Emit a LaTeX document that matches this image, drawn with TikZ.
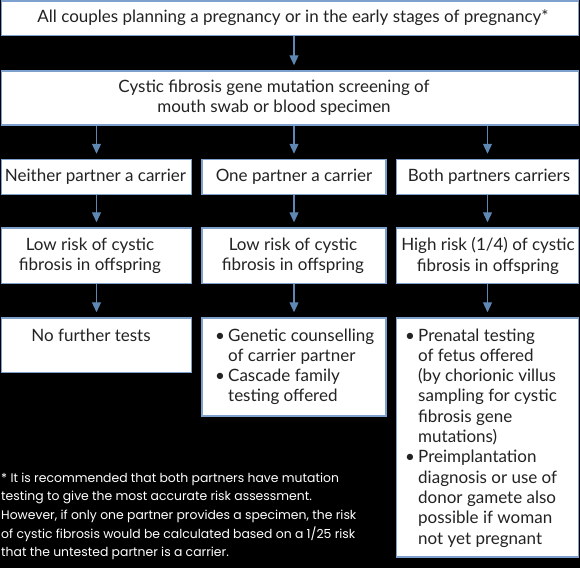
\documentclass[tikz,border=0pt]{standalone}
\usepackage{fontspec}
\setmainfont{Lato}
\newfontfamily\footfont{Poppins}
\usetikzlibrary{arrows.meta}
\definecolor{bord}{RGB}{125,160,205}
\definecolor{arrc}{RGB}{95,135,180}
\definecolor{txt}{RGB}{35,35,35}
\begin{document}
\begin{tikzpicture}[x=1pt,y=-1pt,
  box/.style={draw=bord, line width=1.5pt, fill=white, inner sep=0pt},
  lbl/.style={text=txt, font=\fontsize{17}{20.3}\selectfont, align=center, inner sep=0pt},
  lst/.style={text=txt, font=\fontsize{17}{20.3}\selectfont, inner sep=0pt, anchor=base west},
  foot/.style={text=white, font=\footfont\fontsize{12.4}{18.7}\selectfont, align=left, inner sep=0pt, anchor=base west},
  arr/.style={draw=arrc, line width=1.2pt, -{Triangle[width=9pt,length=10pt]}, shorten >=5pt}]
\fill[black] (0,0) rectangle (580,568);
\useasboundingbox (0,0) rectangle (580,568);
% boxes
\node[box, minimum width=577pt, minimum height=34.5pt] (b1) at (290,18.25) {};
\node[box, minimum width=577pt, minimum height=54pt] (b2) at (290,98) {};
\node[box, minimum width=190pt, minimum height=35pt] (r3a) at (96.5,177) {};
\node[box, minimum width=184pt, minimum height=35pt] (r3b) at (294,177) {};
\node[box, minimum width=182pt, minimum height=35pt] (r3c) at (487.5,177) {};
\node[box, minimum width=190pt, minimum height=55.5pt] (r4a) at (96.5,255.75) {};
\node[box, minimum width=184pt, minimum height=55.5pt] (r4b) at (294,255.75) {};
\node[box, minimum width=182pt, minimum height=55.5pt] (r4c) at (487.5,255.75) {};
\node[box, minimum width=190pt, minimum height=54.5pt] (r5a) at (96.5,345.25) {};
\node[box, minimum width=184pt, minimum height=98pt] (r5b) at (294,367) {};
\node[box, minimum width=182pt, minimum height=239pt] (r5c) at (487.5,437.5) {};
% texts
\node[lbl] (t1) at (293,18) {All couples planning a pregnancy or in the early stages of pregnancy*};
\node[lbl] (t2) at (274,98) {Cystic fibrosis gene mutation screening of\\mouth swab or blood specimen};
\node[lbl] (t3a) at (95.5,177) {Neither partner a carrier};
\node[lbl] (t3b) at (294,177) {One partner a carrier};
\node[lbl] (t3c) at (489,177) {Both partners carriers};
\node[lbl] (t4a) at (90,256) {Low risk of cystic\\fibrosis in offspring};
\node[lbl] (t4b) at (293,256) {Low risk of cystic\\fibrosis in offspring};
\node[lbl] (t4c) at (488,256) {High risk (1/4) of cystic\\fibrosis in offspring};
\node[lbl] (t5a) at (91,335) {No further tests};
\node[lst] (t5b) at (215,341) {\begin{tabular}[t]{@{}p{13pt}@{}l@{}}
\textbullet & Genetic counselling\\
 & of carrier partner\\
\textbullet & Cascade family\\
 & testing offered
\end{tabular}};
\node[lst] (t5c) at (405,341) {\begin{tabular}[t]{@{}p{13pt}@{}l@{}}
\textbullet & Prenatal testing\\
 & of fetus offered\\
 & (by chorionic villus\\
 & sampling for cystic\\
 & fibrosis gene\\
 & mutations)\\
\textbullet & Preimplantation\\
 & diagnosis or use of\\
 & donor gamete also\\
 & possible if woman\\
 & not yet pregnant
\end{tabular}};
\node[foot] (fn) at (1,482) {\begin{tabular}[t]{@{}l@{}}
* It is recommended that both partners have mutation\\
testing to give the most accurate risk assessment.\\
However, if only one partner provides a specimen, the risk\\
of cystic fibrosis would be calculated based on a 1/25 risk\\
that the untested partner is a carrier.
\end{tabular}};
% arrows
\draw[arr] (b1.south -| r3b.north) -- (b2.north -| r3b.north);
\draw[arr] (b2.south -| r3a.north) -- (r3a.north);
\draw[arr] (b2.south -| r3b.north) -- (r3b.north);
\draw[arr] (b2.south -| r3c.north) -- (r3c.north);
\draw[arr] (r3a.south) -- (r4a.north);
\draw[arr] (r3b.south) -- (r4b.north);
\draw[arr] (r3c.south) -- (r4c.north);
\draw[arr] (r4a.south) -- (r5a.north);
\draw[arr] (r4b.south) -- (r5b.north);
\draw[arr] (r4c.south) -- (r5c.north);
\end{tikzpicture}
\end{document}
